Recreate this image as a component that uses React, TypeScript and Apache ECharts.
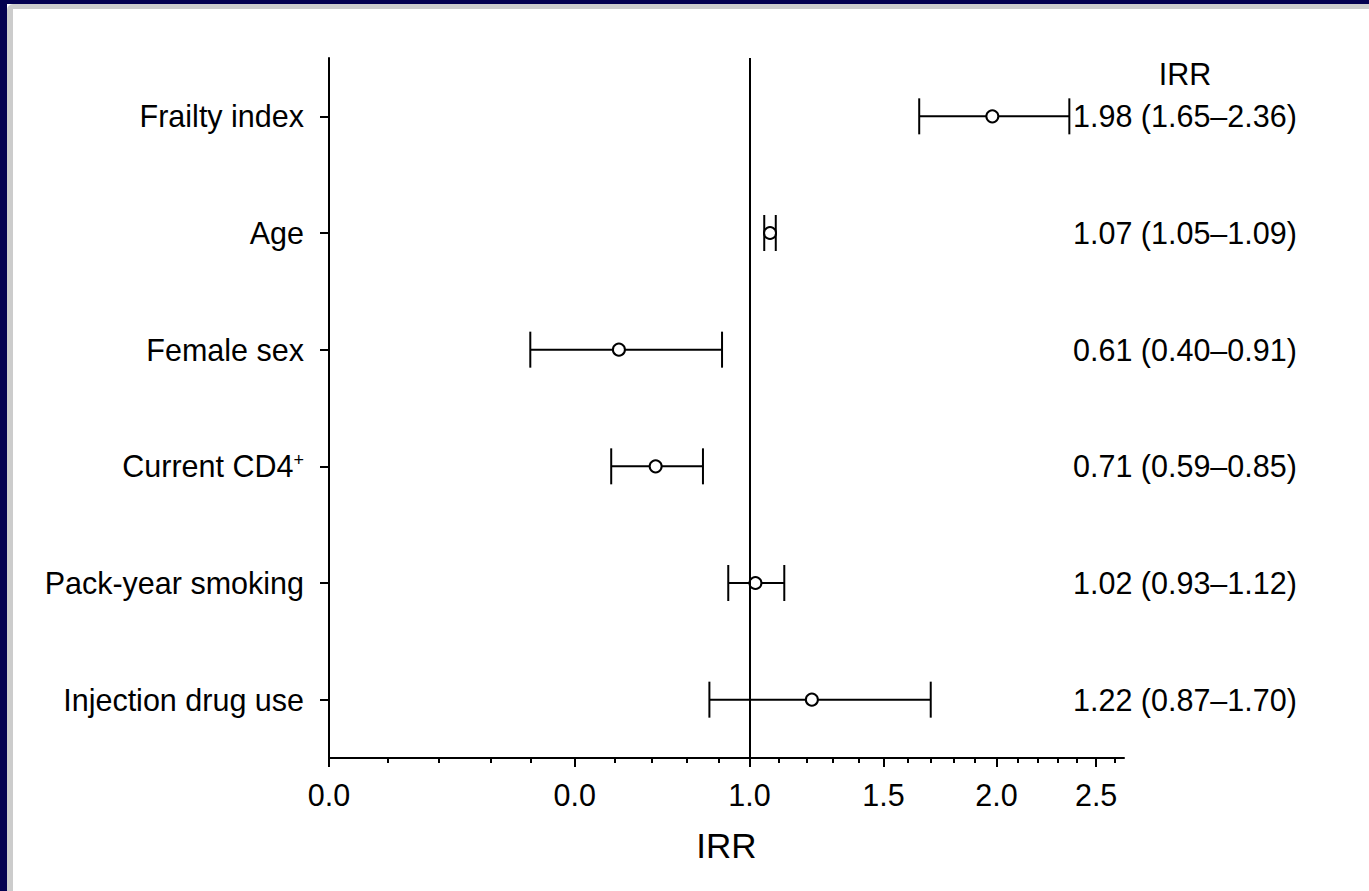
import React, { useEffect, useRef } from "react";
import * as echarts from "echarts";

const CATEGORIES = [
  "Frailty index",
  "Age",
  "Female sex",
  "Current CD4+",
  "Pack-year smoking",
  "Injection drug use",
];
const IRR = [1.98, 1.07, 0.61, 0.71, 1.02, 1.22];
const LOWER = [1.65, 1.05, 0.4, 0.59, 0.93, 0.87];
const UPPER = [2.36, 1.09, 0.91, 0.85, 1.12, 1.7];

const MAJOR_TICKS = [0.087, 0.5, 1.0, 1.5, 2.0, 2.5];
const MAJOR_LABELS = ["0.0", "0.0", "1.0", "1.5", "2.0", "2.5"];
const MINOR_TICKS = [
  0.155, 0.23, 0.32, 0.4, 0.6, 0.7, 0.8, 0.9, 1.1, 1.2, 1.3, 1.4, 1.6, 1.7,
  1.8, 1.9, 2.1, 2.2, 2.3, 2.4, 2.6,
];
const AXIS_MIN = 0.087;
const AXIS_MAX = 2.65;
const REFERENCE = 1.0;
const AXIS_TITLE = "IRR";
const COLUMN_TITLE = "IRR";

const FONT = '"Liberation Sans", Arial, Helvetica, sans-serif';
const FS = 30.5;

// square-root scale transform
const tf = (v: number) => Math.sqrt(v);

const fmt = (v: number) => v.toFixed(2);
const RIGHT_TEXTS = IRR.map(
  (v, i) => `${fmt(v)} (${fmt(LOWER[i])}\u2013${fmt(UPPER[i])})`
);

export default function App() {
  const ref = useRef<HTMLDivElement>(null);

  useEffect(() => {
    if (!ref.current) return;
    const chart = echarts.init(ref.current, undefined, { renderer: "svg" });
    const majorT = MAJOR_TICKS.map(tf);
    const minorT = MINOR_TICKS.map(tf);
    const black = "#000";

    const option: any = {
      animation: false,
      backgroundColor: "transparent",
      textStyle: { fontFamily: FONT },
      grid: {
        left: 329,
        right: 245,
        top: 58,
        bottom: 133,
        containLabel: false,
        outerBoundsMode: "none",
      },
      graphic: [
        {
          type: "text",
          x: 1185,
          y: 74,
          style: {
            text: COLUMN_TITLE,
            fontSize: FS,
            fontFamily: FONT,
            fill: black,
            align: "center",
            verticalAlign: "middle",
          },
        },
      ],
      xAxis: [
        {
          type: "value",
          min: tf(AXIS_MIN),
          max: tf(AXIS_MAX),
          position: "bottom",
          axisLine: { show: true, lineStyle: { color: black, width: 2 } },
          axisTick: {
            show: true,
            customValues: majorT,
            length: 9,
            lineStyle: { color: black, width: 2 },
          },
          axisLabel: {
            show: true,
            customValues: majorT,
            formatter: (v: number) => {
              let best = 0;
              let bd = Infinity;
              majorT.forEach((t, i) => {
                const d = Math.abs(t - v);
                if (d < bd) {
                  bd = d;
                  best = i;
                }
              });
              return MAJOR_LABELS[best];
            },
            fontSize: FS,
            fontFamily: FONT,
            color: black,
            margin: 21,
          },
          splitLine: { show: false },
          name: AXIS_TITLE,
          nameLocation: "middle",
          nameGap: 70,
          nameTextStyle: { fontSize: 35, fontFamily: FONT, color: black },
        },
        {
          type: "value",
          min: tf(AXIS_MIN),
          max: tf(AXIS_MAX),
          position: "bottom",
          offset: 0,
          axisLine: { show: false },
          axisTick: {
            show: true,
            customValues: minorT,
            length: 5,
            lineStyle: { color: black, width: 2 },
          },
          axisLabel: { show: false },
          splitLine: { show: false },
        },
      ],
      yAxis: [
        {
          type: "category",
          data: CATEGORIES,
          inverse: true,
          position: "left",
          axisLine: { show: true, lineStyle: { color: black, width: 2 } },
          axisTick: {
            show: true,
            alignWithLabel: true,
            length: 9,
            lineStyle: { color: black, width: 2 },
          },
          axisLabel: {
            fontSize: FS,
            fontFamily: FONT,
            color: black,
            margin: 25,
            formatter: (v: string) =>
              v.endsWith("+") ? `${v.slice(0, -1)}{sup|+}` : v,
            rich: {
              sup: {
                fontSize: 18,
                fontFamily: FONT,
                color: black,
                verticalAlign: "top",
              },
            },
          },
          splitLine: { show: false },
        },
        {
          type: "category",
          data: CATEGORIES,
          inverse: true,
          position: "right",
          offset: -51,
          axisLine: { show: false },
          axisTick: { show: false },
          axisLabel: {
            fontSize: FS,
            fontFamily: FONT,
            color: black,
            margin: 0,
            align: "left",
            formatter: (_v: string, i: number) => RIGHT_TEXTS[i],
          },
          splitLine: { show: false },
        },
      ],
      series: [
        {
          type: "custom",
          xAxisIndex: 0,
          yAxisIndex: 0,
          encode: { x: [0, 2], y: 1 },
          data: CATEGORIES.map((_c, i) => [tf(LOWER[i]), i, tf(UPPER[i])]),
          renderItem: (_params: any, api: any) => {
            const y = api.value(1);
            const pLo = api.coord([api.value(0), y]);
            const pHi = api.coord([api.value(2), y]);
            const h = 18;
            const style = { stroke: black, lineWidth: 2 };
            return {
              type: "group",
              children: [
                {
                  type: "line",
                  shape: { x1: pLo[0], y1: pLo[1], x2: pHi[0], y2: pHi[1] },
                  style,
                },
                {
                  type: "line",
                  shape: { x1: pLo[0], y1: pLo[1] - h, x2: pLo[0], y2: pLo[1] + h },
                  style,
                },
                {
                  type: "line",
                  shape: { x1: pHi[0], y1: pHi[1] - h, x2: pHi[0], y2: pHi[1] + h },
                  style,
                },
              ],
            };
          },
          markLine: {
            silent: true,
            symbol: "none",
            label: { show: false },
            lineStyle: { color: black, width: 2, type: "solid" },
            data: [{ xAxis: tf(REFERENCE) }],
          },
          z: 2,
        },
        {
          type: "scatter",
          xAxisIndex: 0,
          yAxisIndex: 0,
          data: IRR.map((v, i) => [tf(v), i]),
          symbol: "circle",
          symbolSize: 12,
          itemStyle: { color: "#fff", borderColor: black, borderWidth: 2, opacity: 1 },
          z: 3,
        },
      ],
    };

    chart.setOption(option);
    return () => chart.dispose();
  }, []);

  const navy = "#030050";
  const grey = "#cccccc";

  return (
    <div
      style={{
        position: "fixed",
        left: 0,
        top: 0,
        width: 1369,
        height: 891,
        overflow: "hidden",
        background: "#ffffff",
      }}
    >
      <div style={{ position: "absolute", left: 0, top: 0, width: 1369, height: 4, background: navy }} />
      <div style={{ position: "absolute", left: 0, top: 0, width: 7, height: 891, background: navy }} />
      <div
        style={{
          position: "absolute",
          left: 7,
          top: 4,
          width: 1369,
          height: 891,
          boxSizing: "border-box",
          borderLeft: `6px solid ${grey}`,
          borderTop: `5px solid ${grey}`,
          borderTopLeftRadius: 6,
          background: "transparent",
        }}
      />
      <div
        ref={ref}
        style={{ position: "absolute", left: 0, top: 0, width: 1369, height: 891 }}
      />
    </div>
  );
}
